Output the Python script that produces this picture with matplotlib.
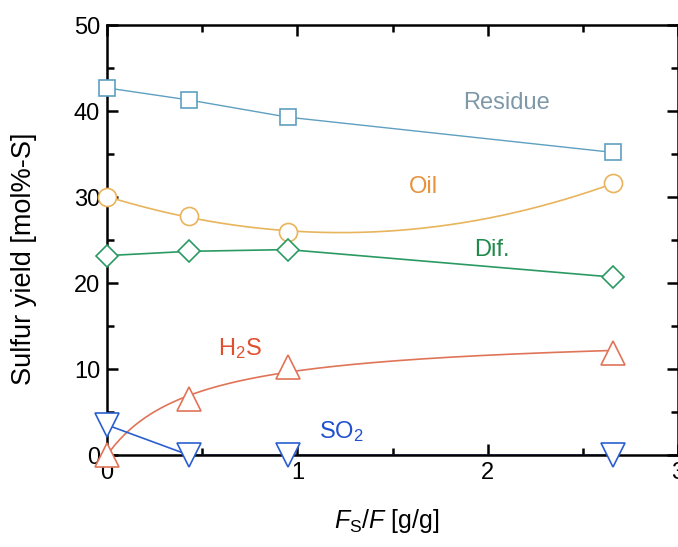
import numpy as np
import matplotlib.pyplot as plt
from matplotlib.ticker import MultipleLocator

plt.rcParams['font.family'] = ['Liberation Sans', 'DejaVu Sans']
plt.rcParams['mathtext.fontset'] = 'custom'
plt.rcParams['mathtext.rm'] = 'Liberation Sans'
plt.rcParams['mathtext.it'] = 'Liberation Sans:italic'

# F_S/F ratio [g/g]
fs_ratio = [0.0, 0.43, 0.95, 2.66]

# sulfur yields [mol%-S]
residue = [42.7, 41.3, 39.3, 35.2]
oil = [30.0, 27.8, 26.0, 31.6]
dif = [23.2, 23.7, 23.9, 20.7]
h2s = [0.0, 6.5, 10.3, 11.9]
so2 = [3.5, 0.0, 0.0, 0.0]

c_res = '#5f9fc0'
c_oil = '#e8b45c'
c_dif = '#2a9a62'
c_h2s = '#e07458'
c_so2 = '#2a5fd0'

x = np.array(fs_ratio)
xs = np.linspace(0, x[-1], 200)

# fitted trend curves
oil_fit = np.polyval(np.polyfit(x, oil, 2), xs)

# saturating fit a*x/(b+x) for H2S
y = np.array(h2s)
best = None
for b in np.linspace(0.05, 3, 600):
    g = x / (b + x)
    a = np.dot(g, y) / np.dot(g, g)
    err = np.sum((a * g - y) ** 2)
    if best is None or err < best[0]:
        best = (err, a, b)
h2s_fit = best[1] * xs / (best[2] + xs)

fig = plt.figure(figsize=(6.78, 5.47), dpi=100)
ax = fig.add_axes([0.158, 0.168, 0.842, 0.786])

ax.plot(x, residue, color=c_res, lw=1.0)
ax.plot(xs, oil_fit, color=c_oil, lw=1.2)
ax.plot(x, dif, color=c_dif, lw=1.2)
ax.plot(xs, h2s_fit, color=c_h2s, lw=1.2)
ax.plot(x, so2, color=c_so2, lw=1.2)

mk = dict(ls='none', mfc='white', mew=1.2, clip_on=False, zorder=5)
ax.plot(x, residue, marker='s', ms=12, mec=c_res, **mk)
ax.plot(x, oil, marker='o', ms=13, mec=c_oil, **mk)
ax.plot(x, dif, marker='D', ms=11, mec=c_dif, **mk)
ax.plot(x, h2s, marker='^', ms=17, mec=c_h2s, **mk)
ax.plot(x, so2, marker='v', ms=17, mec=c_so2, **mk)

ax.text(2.1, 40.9, 'Residue', color='#7f98a8', fontsize=17, ha='center', va='center')
ax.text(1.66, 31.2, 'Oil', color='#e8923c', fontsize=17, ha='center', va='center')
ax.text(2.02, 23.8, 'Dif.', color='#1f8a4a', fontsize=17, ha='center', va='center')
ax.text(0.70, 12.4, 'H$_2$S', color='#e0502e', fontsize=17, ha='center', va='center')
ax.text(1.23, 2.7, 'SO$_2$', color='#2050d0', fontsize=17, ha='center', va='center')

ax.set_xlim(0, 3)
ax.set_ylim(0, 50)
ax.xaxis.set_major_locator(MultipleLocator(1))
ax.xaxis.set_minor_locator(MultipleLocator(0.5))
ax.yaxis.set_major_locator(MultipleLocator(10))
ax.yaxis.set_minor_locator(MultipleLocator(5))
ax.tick_params(which='both', direction='in', top=True, right=True, width=1.8,
               labelsize=17, pad=5)
ax.tick_params(which='major', length=8)
ax.tick_params(which='minor', length=5)
for s in ax.spines.values():
    s.set_linewidth(1.8)

fig.text(387 / 678, 1 - 521 / 547, '$\\mathit{F}_{\\mathrm{S}}/\\mathit{F}$ [g/g]',
         fontsize=18, ha='center', va='center')
fig.text(24 / 678, 1 - 259 / 547, 'Sulfur yield [mol%-S]', fontsize=19.5,
         rotation=90, ha='center', va='center')

fig.savefig('out.png', dpi=100)
